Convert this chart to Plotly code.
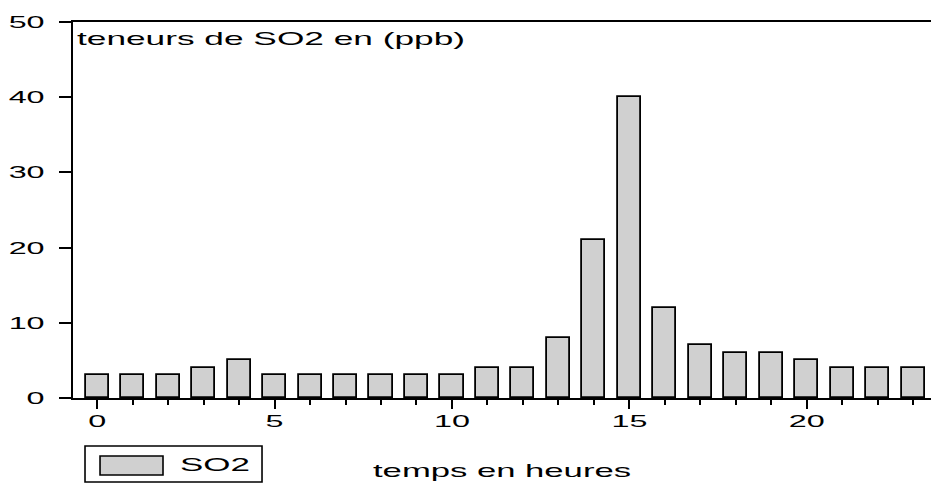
import plotly.graph_objects as go

# hourly SO2 readings
hours = list(range(24))
so2 = [3, 3, 3, 4, 5, 3, 3, 3, 3, 3, 3, 4, 4, 8, 21, 40, 12, 7, 6, 6, 5, 4, 4, 4]
y_ticks = [0, 10, 20, 30, 40, 50]
x_ticks = [0, 5, 10, 15, 20]

FONT = 'Liberation Sans, Arial, sans-serif'

fig = go.Figure(go.Bar(
    x=hours,
    y=so2,
    name='SO2',
    width=0.65,
    marker=dict(color='#d0d0d0', line=dict(color='black', width=1.8)),
    showlegend=False
))

fig.update_layout(
    width=931,
    height=488,
    template='plotly_white',
    plot_bgcolor='white',
    paper_bgcolor='white',
    margin=dict(l=73, r=0, t=22, b=90),
    font=dict(family=FONT, size=17, color='black'),
    bargap=0,
)

fig.update_xaxes(
    range=[-0.68, 23.5],
    tickvals=x_ticks,
    ticks='outside', ticklen=9, tickwidth=1.6, tickcolor='black',
    minor=dict(dtick=1, tick0=0, ticks='outside', ticklen=5, tickwidth=1.6, tickcolor='black'),
    showline=True, linecolor='black', linewidth=2, mirror=True,
    showgrid=False, zeroline=False, automargin=False,
    ticklabelstandoff=-2,
    title=dict(text='temps en heures', standoff=33, font=dict(size=19)),
)
fig.update_yaxes(
    range=[0, 50],
    tickvals=y_ticks,
    ticks='outside', ticklen=12, tickwidth=1.6, tickcolor='black',
    showline=True, linecolor='black', linewidth=2,
    showgrid=False, zeroline=False, automargin=False,
    ticklabelstandoff=11,
)

# y label placed inside the frame, top-left
fig.add_annotation(
    text='teneurs de SO2 en (ppb)', xref='paper', yref='paper',
    x=0.002, y=0.955, xanchor='left', yanchor='middle', align='left', showarrow=False,
    font=dict(size=19),
)

# hand-drawn legend box under the axis
fig.add_shape(type='rect', xref='paper', yref='paper', x0=0.014, x1=0.2203, y0=-0.1277, y1=-0.2234,
              line=dict(color='black', width=1.6), fillcolor='white')
fig.add_shape(type='rect', xref='paper', yref='paper', x0=0.0315, x1=0.1049, y0=-0.1543, y1=-0.2048,
              line=dict(color='black', width=1.6), fillcolor='#d0d0d0')
fig.add_annotation(
    text='SO2', xref='paper', yref='paper', x=0.1224, y=-0.178,
    xanchor='left', yanchor='middle', align='left', showarrow=False, font=dict(size=19),
)

# page has a default body margin; the original export also has horizontally
# stretched lettering, so widen the svg text to match
stretch_js = """
document.body.style.margin = '0';
var gd = document.getElementById('{plot_id}');
var targets = {'teneurs de SO2 en (ppb)': 388, 'temps en heures': 258, 'SO2': 70};
gd.querySelectorAll('svg text').forEach(function(t) {
    var txt = t.textContent;
    if (!txt) return;
    var w = t.getComputedTextLength();
    var goal = targets[txt] || w * 1.9;
    t.setAttribute('textLength', goal);
    t.setAttribute('lengthAdjust', 'spacingAndGlyphs');
});
"""

fig.write_html("out.html", post_script=stretch_js, config={'displayModeBar': False})
